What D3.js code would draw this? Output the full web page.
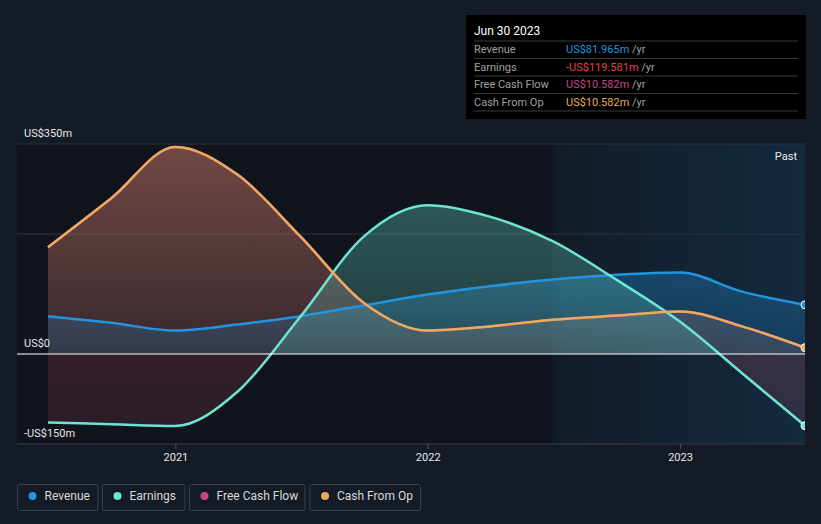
<!DOCTYPE html>
<html><head><meta charset="utf-8">
<script src="https://cdn.jsdelivr.net/npm/d3@7"></script>
<style>body{margin:0;background:#151b26;} svg{display:block;font-family:Roboto, "Noto Sans", sans-serif;}</style>
</head><body><svg id="c" width="821" height="524"></svg>
<script>
const dates = ["2020-06-30","2020-09-30","2020-12-31","2021-03-31","2021-06-30","2021-09-30","2021-12-31","2022-03-31","2022-06-30","2022-09-30","2022-12-31","2023-03-31","2023-06-30"];
const revenue = [63,52,39,49,63,81,99,113,124,132,136,104,81.965];
const earnings = [-114,-117,-120,-63,62,196,248,229,188,124,54,-32,-119.581];
const freeCashFlow = [178,260,345,299,196,85,39,46,57,64,71,46,10.582];
const cashFromOp = [178,260,345,299,196,85,39,46,57,64,71,46,10.582];
const yLabelValues = [350,0,-150];
const yLabelTexts = ["US$350m","US$0","-US$150m"];
const gridValues = [350,200];
const xTickYears = [2021,2022,2023];
const pastStart = "2022-06-30";
const tipTitle = "Jun 30 2023";
const tipLabels = ["Revenue","Earnings","Free Cash Flow","Cash From Op"];
const tipValues = ["US$81.965m","-US$119.581m","US$10.582m","US$10.582m"];
const legendNames = ["Revenue","Earnings","Free Cash Flow","Cash From Op"];

const colors = {rev:"#2394df", earn:"#6ce5d2", fcf:"#c4478a", cfo:"#e9ab5c", loss:"#e8404a", lossFill:"#c95062"};
const parse = d3.timeParse("%Y-%m-%d");
const D = dates.map(parse);

const svg = d3.select("#c");
const x = d3.scaleTime().domain([D[0], D[D.length-1]]).range([48, 805]);
const y = d3.scaleLinear().domain([-150, 350]).range([444, 144]);
const plotL = 17, plotR = 805;

const defs = svg.append("defs");
function vgrad(id, color, o1, o2, y1, y2){
  const g = defs.append("linearGradient").attr("id", id).attr("gradientUnits","userSpaceOnUse")
    .attr("x1",0).attr("x2",0).attr("y1",y1).attr("y2",y2);
  g.append("stop").attr("offset","0").attr("stop-color",color).attr("stop-opacity",o1);
  g.append("stop").attr("offset","1").attr("stop-color",color).attr("stop-opacity",o2);
}
vgrad("gCfo", colors.cfo, 0.28, 0.1, y(350), y(0));
vgrad("gFcf", colors.fcf, 0.28, 0.1, y(350), y(0));
vgrad("gRev", colors.rev, 0.35, 0.15, y(150), y(0));
vgrad("gEarn", colors.earn, 0.32, 0.18, y(250), y(0));
vgrad("gLoss", colors.lossFill, 0.2, 0.13, y(0), y(-150));
const pg = defs.append("linearGradient").attr("id","gPast").attr("x1",0).attr("x2",1).attr("y1",0).attr("y2",0);
pg.append("stop").attr("offset","0").attr("stop-color","#121c27");
pg.append("stop").attr("offset","1").attr("stop-color","#132a40");

defs.append("clipPath").attr("id","clip").append("rect")
  .attr("x",plotL).attr("y",y(350)).attr("width",plotR-plotL).attr("height",y(-150)-y(350));
defs.append("clipPath").attr("id","clipPos").append("rect")
  .attr("x",plotL).attr("y",0).attr("width",plotR-plotL).attr("height",y(0));
defs.append("clipPath").attr("id","clipNeg").append("rect")
  .attr("x",plotL).attr("y",y(0)).attr("width",plotR-plotL).attr("height",y(-150)-y(0));

// plot background
svg.append("rect").attr("x",plotL).attr("y",y(350)).attr("width",plotR-plotL).attr("height",y(-150)-y(350)).attr("fill","#10141c");
svg.append("rect").attr("x",x(parse(pastStart))).attr("y",y(350)).attr("width",plotR-x(parse(pastStart))).attr("height",y(-150)-y(350)).attr("fill","url(#gPast)");

// gridlines
svg.selectAll(".grid").data(gridValues).join("line")
  .attr("x1",plotL).attr("x2",plotR).attr("y1",d=>y(d)).attr("y2",d=>y(d))
  .attr("stroke","#2c323d").attr("stroke-width",1);
svg.append("line").attr("x1",plotL).attr("x2",plotR).attr("y1",y(-150)).attr("y2",y(-150)).attr("stroke","#363c47");

const curve = d3.curveMonotoneX;
const g = svg.append("g").attr("clip-path","url(#clip)");
function area(vals){ return d3.area().x((d,i)=>x(D[i])).y0(y(0)).y1(d=>y(d)).curve(curve)(vals); }
function line(vals){ return d3.line().x((d,i)=>x(D[i])).y(d=>y(d)).curve(curve)(vals); }

g.append("path").attr("d",area(freeCashFlow)).attr("fill","url(#gFcf)");
g.append("path").attr("d",area(cashFromOp)).attr("fill","url(#gCfo)");
g.append("path").attr("d",area(revenue)).attr("fill","url(#gRev)");
g.append("g").attr("clip-path","url(#clipPos)").append("path").attr("d",area(earnings)).attr("fill","url(#gEarn)");
g.append("g").attr("clip-path","url(#clipNeg)").append("path").attr("d",area(earnings)).attr("fill","url(#gLoss)");

// zero line
svg.append("line").attr("x1",plotL).attr("x2",plotR).attr("y1",y(0)).attr("y2",y(0)).attr("stroke","#ffffff").attr("stroke-width",1);

const series = [[revenue,colors.rev],[earnings,colors.earn],[freeCashFlow,colors.fcf],[cashFromOp,colors.cfo]];
series.forEach(([v,c])=>{
  g.append("path").attr("d",line(v)).attr("fill","none").attr("stroke",c).attr("stroke-width",2.5);
});
[[revenue,colors.rev],[earnings,colors.earn],[cashFromOp,colors.cfo]].forEach(([v,c])=>{
  g.append("circle").attr("cx",x(D[D.length-1])).attr("cy",y(v[v.length-1])).attr("r",4)
    .attr("fill",c).attr("stroke","#ffffff").attr("stroke-width",1);
});

// Past label
svg.append("text").attr("x",797).attr("y",160).attr("text-anchor","end").attr("fill","#e8e8e8").attr("font-size",11).text("Past");

// y labels
svg.selectAll(".yl").data(yLabelValues).join("text")
  .attr("x",24).attr("y",d=>y(d)-7).attr("fill","#e6e6e6").attr("font-size",11)
  .text((d,i)=>yLabelTexts[i]);

// x axis ticks
const xt = xTickYears.map(yr=>new Date(yr,0,1));
svg.selectAll(".xt").data(xt).join("line")
  .attr("x1",d=>x(d)).attr("x2",d=>x(d)).attr("y1",y(-150)).attr("y2",y(-150)+5).attr("stroke","#4a505a");
svg.selectAll(".xl").data(xt).join("text")
  .attr("x",d=>x(d)).attr("y",461).attr("text-anchor","middle").attr("fill","#e6e6e6").attr("font-size",11)
  .text(d=>d3.timeFormat("%Y")(d));

// tooltip
const tip = svg.append("g");
tip.append("rect").attr("x",466).attr("y",15).attr("width",340).attr("height",104).attr("fill","#000000");
tip.append("text").attr("x",474).attr("y",35).attr("fill","#ffffff").attr("font-size",12).text(tipTitle);
const tipColors = [colors.rev, colors.loss, colors.fcf, colors.cfo];
const lineYs = [41,58.5,76,93.5,111];
lineYs.forEach(ly=>tip.append("line").attr("x1",474).attr("x2",798).attr("y1",ly).attr("y2",ly).attr("stroke","#3a3a3a"));
tipLabels.forEach((l,i)=>{
  const by = 53 + i*17.5;
  tip.append("text").attr("x",474).attr("y",by).attr("fill","#a0a0a0").attr("font-size",11).text(l);
  const t = tip.append("text").attr("x",566).attr("y",by).attr("font-size",11);
  t.append("tspan").attr("fill",tipColors[i]).text(tipValues[i]);
  t.append("tspan").attr("fill","#a0a0a0").text(" /yr");
});

// legend
const legColors = [colors.rev, colors.earn, colors.fcf, colors.cfo];
const legX = [17,102,189,309.5], legW = [80.5,82.5,115.5,110.5];
legendNames.forEach((n,i)=>{
  const lg = svg.append("g");
  lg.append("rect").attr("x",legX[i]+0.5).attr("y",484.5).attr("width",legW[i]).attr("height",26).attr("rx",2)
    .attr("fill","none").attr("stroke","#3a404b");
  lg.append("circle").attr("cx",legX[i]+15.5).attr("cy",496).attr("r",4).attr("fill",legColors[i]);
  lg.append("text").attr("x",legX[i]+27.5).attr("y",500).attr("fill","#d8d8d8").attr("font-size",12).text(n);
});
</script></body></html>
